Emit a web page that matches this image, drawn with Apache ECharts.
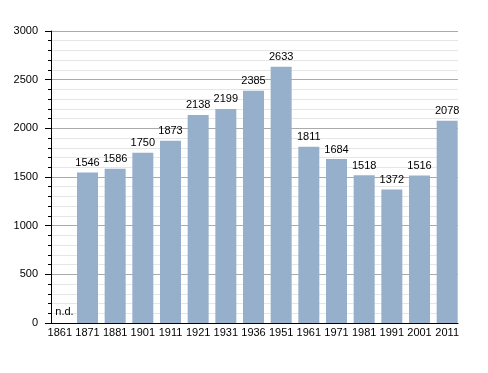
<!DOCTYPE html>
<html><head><meta charset="utf-8">
<script src="https://cdn.jsdelivr.net/npm/echarts@6/dist/echarts.min.js"></script>
<style>html,body{margin:0;padding:0;background:#fff}#c{width:488px;height:373px}</style>
</head><body><div id="c"></div>
<script>
var years = ['1861','1871','1881','1901','1911','1921','1931','1936','1951','1961','1971','1981','1991','2001','2011'];
var population = [null,1546,1586,1750,1873,2138,2199,2385,2633,1811,1684,1518,1372,1516,2078];
var yTicks = [0,500,1000,1500,2000,2500,3000];

var chart = echarts.init(document.getElementById('c'));
var font = 'Liberation Sans, Arial, sans-serif';
var yMin = yTicks[0], yMax = yTicks[yTicks.length-1];
chart.setOption({
  animation:false,
  grid:[{left:51,right:30,top:31,bottom:50},{left:46,right:27,top:31,bottom:50}],
  xAxis:[
    {gridIndex:0,type:'category',data:years,
      axisLine:{lineStyle:{color:'#000',width:1}},
      axisTick:{show:false},axisLabel:{show:false}},
    {gridIndex:1,type:'category',data:years,
      axisLine:{show:false},axisTick:{show:false},
      axisLabel:{color:'#000',fontSize:11,fontFamily:font,margin:4,interval:0}}],
  yAxis:[
    {gridIndex:0,type:'value',min:yMin,max:yMax,interval:500,
      axisLine:{show:true,lineStyle:{color:'#000'}},
      axisTick:{show:true,length:6,lineStyle:{color:'#000'}},
      minorTick:{show:true,splitNumber:5,length:3,lineStyle:{color:'#000'}},
      splitLine:{show:true,lineStyle:{color:'#aaa',width:1}},
      minorSplitLine:{show:true,lineStyle:{color:'#e6e6e6',width:1}},
      axisLabel:{color:'#000',fontSize:11,fontFamily:font,margin:13,formatter:function(v){return String(v);}}},
    {gridIndex:1,type:'value',min:yMin,max:yMax,interval:500,show:false,splitLine:{show:false}}],
  series:[{type:'bar',xAxisIndex:1,yAxisIndex:1,barWidth:21,
    data:population.map(function(v){return v===null?{value:0,label:{formatter:'n.d.',position:'insideBottomLeft',offset:[2,-2]}}:v;}),
    itemStyle:{color:'#96b0cb'},
    label:{show:true,position:'top',color:'#000',fontSize:11,fontFamily:font,distance:4}
  }]
});
</script></body></html>
